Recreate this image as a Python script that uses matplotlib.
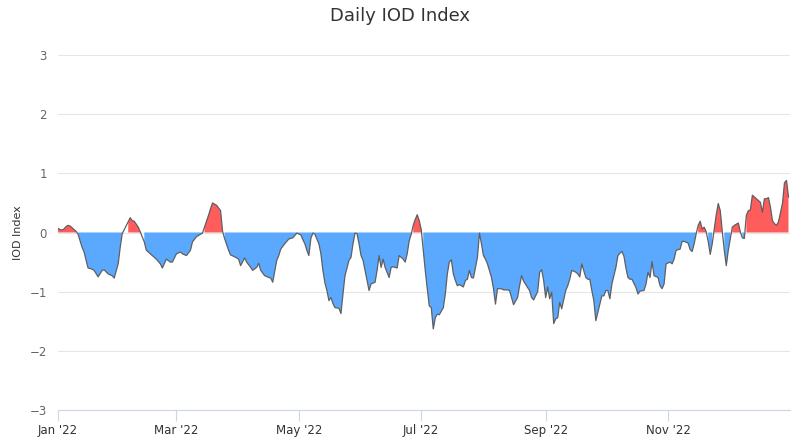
import matplotlib
matplotlib.use("Agg")
import matplotlib.pyplot as plt
import matplotlib.dates as mdates
import numpy as np
import pandas as pd

# ---------------- DATA ----------------
# day of year (0 = 1 Jan 2022) and IOD index, 10 per row
days = [0, 1, 2, 3, 4, 5, 6, 7, 8, 9,
        10, 11, 12, 13, 14, 15, 17, 18, 20, 22,
        23, 25, 27, 28, 30, 31, 32, 35, 36, 37,
        38, 40, 41, 43, 44, 46, 47, 49, 51, 52,
        54, 56, 57, 59, 61, 62, 64, 66, 67, 69,
        71, 72, 73, 75, 76, 77, 79, 81, 82, 83,
        85, 86, 88, 90, 91, 93, 94, 96, 97, 99,
        100, 101, 103, 105, 106, 107, 109, 110, 111, 113,
        115, 117, 119, 121, 122, 123, 124, 125, 126, 127,
        128, 130, 131, 132, 133, 134, 135, 136, 137, 138,
        140, 141, 142, 143, 145, 146, 147, 148, 149, 150,
        151, 152, 153, 155, 156, 158, 159, 160, 161, 162,
        163, 165, 166, 167, 169, 170, 172, 173, 174, 175,
        176, 177, 178, 179, 180, 181, 182, 183, 184, 185,
        186, 187, 188, 189, 190, 192, 193, 194, 195, 196,
        197, 198, 199, 200, 202, 203, 204, 205, 206, 207,
        209, 210, 211, 212, 213, 214, 216, 217, 218, 219,
        221, 222, 224, 225, 226, 227, 229, 230, 231, 232,
        234, 235, 236, 237, 239, 240, 241, 242, 243, 244,
        245, 246, 247, 248, 249, 250, 251, 253, 254, 255,
        256, 258, 259, 260, 261, 263, 264, 265, 266, 267,
        268, 270, 271, 272, 273, 274, 275, 276, 278, 279,
        280, 281, 282, 283, 284, 285, 286, 288, 289, 290,
        292, 293, 294, 295, 296, 297, 299, 300, 301, 302,
        303, 305, 306, 307, 308, 310, 311, 312, 314, 315,
        316, 317, 318, 319, 320, 321, 322, 323, 324, 325,
        326, 327, 328, 329, 330, 331, 332, 333, 334, 335,
        336, 337, 338, 339, 340, 341, 342, 343, 344, 345,
        346, 347, 348, 349, 350, 351, 352, 353, 354, 355,
        356, 357, 358, 359, 361, 362, 363, 364]
iod = [0.07, 0.05, 0.04, 0.06, 0.10, 0.12, 0.11, 0.08, 0.05, 0.02,
       -0.03, -0.14, -0.25, -0.33, -0.47, -0.60, -0.62, -0.64, -0.75, -0.64,
       -0.63, -0.70, -0.73, -0.77, -0.53, -0.25, -0.02, 0.18, 0.25, 0.20,
       0.19, 0.09, 0.01, -0.16, -0.30, -0.36, -0.39, -0.45, -0.53, -0.60,
       -0.45, -0.50, -0.50, -0.36, -0.33, -0.36, -0.39, -0.30, -0.16, -0.07,
       -0.03, -0.01, 0.09, 0.29, 0.40, 0.50, 0.46, 0.37, 0.02, -0.10,
       -0.30, -0.38, -0.41, -0.45, -0.56, -0.43, -0.50, -0.59, -0.64, -0.59,
       -0.52, -0.64, -0.73, -0.76, -0.77, -0.84, -0.47, -0.39, -0.28, -0.19,
       -0.11, -0.09, -0.01, -0.04, -0.12, -0.19, -0.30, -0.39, -0.10, -0.01,
       -0.03, -0.19, -0.36, -0.64, -0.85, -0.98, -1.15, -1.10, -1.20, -1.27,
       -1.28, -1.37, -1.04, -0.73, -0.47, -0.42, -0.19, -0.01, -0.02, -0.19,
       -0.39, -0.47, -0.64, -0.98, -0.87, -0.84, -0.64, -0.39, -0.59, -0.45,
       -0.59, -0.76, -0.59, -0.58, -0.60, -0.39, -0.45, -0.50, -0.36, -0.14,
       -0.03, 0.12, 0.22, 0.30, 0.20, 0.05, -0.30, -0.64, -0.95, -1.24,
       -1.27, -1.63, -1.44, -1.38, -1.39, -1.27, -1.04, -0.70, -0.50, -0.46,
       -0.70, -0.81, -0.90, -0.88, -0.92, -0.81, -0.79, -0.64, -0.76, -0.77,
       -0.42, -0.01, -0.19, -0.39, -0.45, -0.53, -0.76, -0.95, -1.21, -0.95,
       -0.95, -0.97, -0.97, -0.98, -1.10, -1.22, -1.10, -0.90, -0.73, -0.82,
       -0.93, -0.98, -1.10, -1.14, -1.00, -0.67, -0.63, -0.81, -1.10, -0.92,
       -1.12, -1.01, -1.54, -1.46, -1.44, -1.18, -1.29, -0.98, -0.90, -0.79,
       -0.64, -0.67, -0.70, -0.75, -0.53, -0.76, -0.79, -0.79, -0.98, -1.15,
       -1.49, -1.21, -1.07, -1.07, -0.98, -0.98, -1.12, -0.87, -0.59, -0.39,
       -0.35, -0.32, -0.40, -0.60, -0.76, -0.79, -0.79, -0.93, -1.04, -0.99,
       -0.98, -0.87, -0.67, -0.76, -0.49, -0.73, -0.76, -0.90, -0.95, -0.87,
       -0.53, -0.50, -0.53, -0.45, -0.30, -0.28, -0.15, -0.15, -0.18, -0.29,
       -0.32, -0.19, -0.02, 0.12, 0.19, 0.06, 0.09, 0.01, -0.15, -0.37,
       -0.19, 0.05, 0.30, 0.49, 0.37, 0.02, -0.30, -0.56, -0.30, -0.10,
       0.09, 0.12, 0.14, 0.16, 0.01, -0.09, -0.10, 0.29, 0.37, 0.38,
       0.63, 0.60, 0.57, 0.54, 0.51, 0.34, 0.57, 0.57, 0.59, 0.43,
       0.20, 0.15, 0.12, 0.18, 0.49, 0.84, 0.88, 0.60]

dates = pd.Timestamp("2022-01-01") + pd.to_timedelta(days, unit="D")
y = np.array(iod)

# ---------------- AREA PLOT ----------------
fig = plt.figure(figsize=(8, 4.44), dpi=100)
ax = fig.add_axes([0.0725, 0.0766, 0.915, 0.7995])

ax.fill_between(dates, y, 0, where=y > 0, color="#ff5c5c", linewidth=0)
ax.fill_between(dates, y, 0, where=y <= 0, color="#5aa9ff", linewidth=0)
ax.plot(dates, y, color="#5f5f5f", linewidth=0.9)

ax.set_ylim(-3, 3)
ax.set_yticks(range(-3, 4))
ax.set_xlim(pd.Timestamp("2022-01-01"), pd.Timestamp("2022-12-31 18:00"))
ax.xaxis.set_major_locator(mdates.MonthLocator(bymonth=[1, 3, 5, 7, 9, 11]))
ax.xaxis.set_major_formatter(mdates.DateFormatter("%b '%y"))

ax.grid(axis="y", color="#e6e6e6", linewidth=0.8)
ax.set_axisbelow(True)
for s in ["top", "right", "left"]:
    ax.spines[s].set_visible(False)
ax.spines["bottom"].set_color("#ccd6eb")
ax.tick_params(axis="x", colors="#ccd6eb", length=8, width=0.8,
               labelcolor="#333333", labelsize=8.5, pad=2)
ax.tick_params(axis="y", length=0, labelcolor="#666666", labelsize=8.5, pad=8)

fig.text(0.022, 0.477, "IOD Index", rotation=90, ha="center", va="center",
         fontsize=8, color="#333333")
fig.suptitle("Daily IOD Index", fontsize=13, color="#333333", y=0.985)

fig.savefig("out.png", dpi=100)
